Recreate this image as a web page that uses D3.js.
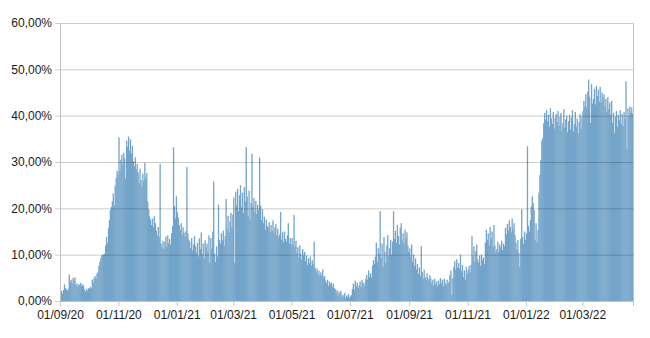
<!DOCTYPE html>
<html>
<head>
<meta charset="utf-8">
<script src="https://cdn.jsdelivr.net/npm/d3@7/dist/d3.min.js"></script>
<style>
  html, body { margin: 0; padding: 0; background: #fff; }
  #chart { width: 650px; height: 338px; }
</style>
</head>
<body>
<div id="chart"></div>
<script>
/* Daily percentage bars, 01/09/20 – 22/04/22 */

// one array per month, daily values in %
var sep20 = [1.8, 2.2, 1.6, 2.4, 3.6, 2.8, 2.5, 2.2, 2.6, 5.7, 4.2, 4.6, 3.8, 5.0, 4.4, 5.1, 3.4, 3.8, 3.1, 3.6, 3.5, 3.9, 3.3, 3.6, 3.2, 2.4, 2.0, 2.6, 2.2, 2.8];
var oct20 = [2.6, 3.0, 2.8, 4.6, 4.0, 5.0, 5.4, 4.8, 5.9, 6.2, 7.6, 8.4, 9.2, 9.8, 10.1, 9.9, 10.2, 12.0, 13.8, 12.5, 15.8, 17.5, 19.6, 20.3, 21.5, 23.2, 20.6, 24.8, 26.5, 28.1, 27.2];
var nov20 = [35.3, 28.2, 30.5, 31.6, 29.4, 32.0, 30.8, 26.4, 34.6, 33.2, 35.5, 32.4, 34.9, 31.8, 33.5, 30.2, 29.1, 31.0, 28.4, 29.6, 27.8, 25.4, 28.6, 26.1, 24.8, 27.5, 25.9, 29.8, 26.5, 27.6];
var dec20 = [21.5, 19.8, 18.2, 17.6, 16.4, 17.8, 15.9, 18.3, 16.8, 15.2, 14.1, 16.0, 13.8, 29.6, 12.4, 11.6, 13.0, 11.2, 12.8, 13.9, 11.8, 14.2, 12.5, 13.4, 12.1, 14.6, 16.2, 33.2, 20.5, 17.8, 22.6];
var jan21 = [19.2, 18.0, 16.4, 15.3, 16.8, 14.2, 15.9, 14.8, 13.9, 15.1, 28.9, 14.6, 13.2, 12.8, 11.4, 13.6, 10.9, 12.2, 14.0, 11.8, 10.4, 12.6, 9.6, 13.5, 11.2, 14.8, 10.2, 12.4, 9.2, 13.1, 11.6];
var feb21 = [12.4, 10.6, 14.2, 8.2, 13.6, 11.4, 15.0, 25.8, 10.2, 8.4, 11.8, 9.6, 20.8, 13.2, 12.4, 14.6, 13.1, 15.2, 12.0, 14.0, 22.0, 15.6, 18.4, 14.8, 17.2, 19.0, 15.8, 18.6];
var mar21 = [22.4, 8.2, 23.6, 20.6, 24.2, 19.4, 22.8, 25.0, 20.2, 23.4, 19.0, 24.6, 21.4, 33.2, 22.6, 18.4, 23.8, 17.6, 21.2, 31.8, 20.4, 22.2, 19.2, 21.6, 18.8, 20.8, 19.6, 31.0, 20.6, 17.4, 19.8];
var apr21 = [16.8, 18.2, 15.4, 17.6, 16.2, 15.8, 17.0, 14.8, 16.4, 15.2, 17.4, 14.6, 15.9, 16.6, 14.2, 15.6, 13.8, 14.4, 19.2, 13.2, 14.8, 12.6, 15.0, 13.4, 12.8, 14.2, 16.8, 12.4, 13.6, 12.2];
var may21 = [13.6, 12.2, 18.6, 11.8, 13.0, 10.4, 11.6, 9.4, 12.0, 10.2, 9.0, 11.2, 9.8, 10.6, 8.6, 9.8, 7.8, 9.2, 8.2, 9.6, 7.6, 8.8, 8.0, 12.8, 7.2, 6.4, 7.0, 5.8, 6.6, 5.4, 6.2];
var jun21 = [5.6, 6.8, 5.0, 5.4, 4.4, 3.8, 4.6, 3.2, 4.2, 3.6, 4.0, 3.0, 3.8, 2.8, 2.6, 1.8, 2.4, 1.2, 2.0, 1.6, 2.2, 0.8, 1.4, 1.0, 1.8, 0.6, 1.2, 0.9, 1.5, 0.7];
var jul21 = [1.0, 1.3, 2.6, 3.8, 2.4, 4.4, 3.2, 4.0, 2.8, 3.4, 4.2, 3.0, 4.6, 3.6, 4.0, 3.2, 4.8, 5.6, 4.6, 6.6, 5.2, 6.0, 5.0, 7.6, 8.8, 8.0, 9.6, 12.6, 8.4, 11.4, 10.2];
var aug21 = [19.4, 9.2, 12.4, 7.4, 13.8, 10.6, 8.2, 12.0, 14.2, 9.8, 11.4, 13.2, 10.0, 12.8, 19.4, 13.4, 15.2, 12.6, 16.4, 14.0, 12.2, 15.8, 16.8, 13.0, 14.6, 12.4, 15.4, 13.6, 14.8, 12.0, 10.6];
var sep21 = [11.4, 9.6, 12.2, 8.4, 10.0, 7.6, 9.2, 6.8, 8.0, 5.8, 7.2, 5.4, 11.8, 6.2, 4.8, 6.8, 5.2, 4.6, 6.0, 5.0, 4.4, 5.6, 4.8, 3.8, 4.6, 3.4, 4.8, 3.6, 4.2, 3.2];
var oct21 = [4.4, 3.6, 5.0, 3.8, 4.6, 3.2, 4.8, 4.0, 3.4, 4.6, 3.8, 4.2, 5.6, 6.6, 1.3, 5.0, 7.4, 8.6, 6.8, 9.0, 7.2, 8.2, 7.0, 10.0, 6.4, 7.8, 5.2, 6.6, 4.6, 7.4, 5.8];
var nov21 = [6.8, 7.6, 6.2, 7.8, 14.0, 9.6, 11.8, 8.4, 10.8, 12.2, 9.0, 8.2, 9.8, 7.6, 10.0, 8.8, 9.4, 8.0, 12.6, 15.4, 13.2, 14.6, 12.0, 16.0, 13.6, 15.0, 11.6, 16.4, 12.0, 10.4];
var dec21 = [11.2, 12.8, 10.6, 12.2, 11.6, 13.0, 11.0, 12.4, 11.8, 15.8, 14.4, 16.6, 15.2, 17.4, 16.0, 14.8, 17.8, 15.6, 16.8, 14.2, 12.6, 11.0, 13.2, 10.4, 7.4, 13.4, 19.8, 13.8, 12.4, 15.0, 13.2];
var jan22 = [14.6, 33.4, 16.2, 15.0, 17.4, 20.4, 22.6, 21.2, 19.6, 13.2, 16.8, 12.6, 15.4, 23.4, 27.2, 30.4, 34.6, 35.2, 38.4, 40.6, 39.2, 41.2, 38.8, 40.2, 37.6, 41.6, 39.4, 38.2, 40.8, 37.2, 39.6];
var feb22 = [40.4, 38.6, 41.0, 37.8, 39.8, 40.6, 36.8, 38.4, 41.4, 37.4, 39.2, 40.0, 36.4, 38.8, 40.2, 37.0, 39.6, 41.2, 36.6, 38.2, 40.8, 37.6, 39.4, 36.2, 38.6, 40.4, 37.2, 39.8];
var mar22 = [41.0, 43.2, 42.0, 44.6, 41.8, 45.2, 47.8, 44.0, 38.4, 46.8, 42.6, 43.6, 45.8, 42.4, 46.4, 44.2, 45.6, 43.0, 46.2, 42.8, 45.0, 43.8, 44.6, 42.0, 43.6, 40.8, 44.0, 41.4, 42.8, 40.2, 43.2];
var apr22 = [38.4, 40.6, 36.2, 39.8, 41.0, 37.6, 40.2, 39.0, 41.2, 38.2, 40.4, 37.8, 40.8, 39.4, 47.4, 32.8, 41.6, 39.8, 42.0, 40.6, 41.8, 40.4];

var Y_TICKS = [0, 10, 20, 30, 40, 50, 60];
var START_DATE = new Date(Date.UTC(2020, 8, 1));

(function () {
  'use strict';

  var WIDTH = 650;
  var HEIGHT = 338;
  var MARGIN = { top: 23, right: 17, bottom: 37, left: 60 };

  var COLOR_BAR   = '#74a4c9';
  var COLOR_GRID  = '#000';
  var COLOR_AXIS  = '#c4c4c4';
  var COLOR_TEXT  = '#1a1a1a';
  var FONT_FAMILY = '"Liberation Sans", Arial, Helvetica, sans-serif';
  var FONT_SIZE   = 12;
  var BAR_OVERLAP = 0.35;

  var values = [].concat(sep20, oct20, nov20, dec20, jan21, feb21, mar21, apr21,
    may21, jun21, jul21, aug21, sep21, oct21, nov21, dec21, jan22, feb22, mar22, apr22);

  var data = values.map(function (v, i) {
    return { date: d3.utcDay.offset(START_DATE, i), value: v };
  });

  var endDate = d3.utcDay.offset(START_DATE, values.length);

  var x = d3.scaleUtc()
    .domain([START_DATE, endDate])
    .range([MARGIN.left, WIDTH - MARGIN.right]);

  var y = d3.scaleLinear()
    .domain([0, 60])
    .range([HEIGHT - MARGIN.bottom, MARGIN.top]);

  var locale = d3.formatLocale({ decimal: ',', thousands: '.', grouping: [3], currency: ['', '€'] });
  var fmtPct = function (v) { return locale.format('.2f')(v) + '%'; };
  var fmtDate = d3.utcFormat('%d/%m/%y');

  var svg = d3.select('#chart').append('svg')
    .attr('width', WIDTH)
    .attr('height', HEIGHT);

  // bars, slightly overlapped so the 1px columns don't leave white seams
  svg.append('g')
    .attr('class', 'bars')
    .selectAll('rect')
    .data(data)
    .join('rect')
    .attr('x', function (d) { return x(d.date); })
    .attr('width', function (d, i) {
      var w = x(d3.utcDay.offset(d.date, 1)) - x(d.date);
      return i === data.length - 1 ? w : w + BAR_OVERLAP;
    })
    .attr('y', function (d) { return y(d.value); })
    .attr('height', function (d) { return y(0) - y(d.value); })
    .attr('fill', COLOR_BAR);

  // horizontal grid + y ticks, drawn over the bars
  var yAxis = d3.axisLeft(y)
    .tickValues(Y_TICKS)
    .tickSize(-(WIDTH - MARGIN.left - MARGIN.right) - 5)
    .tickPadding(3)
    .tickFormat(fmtPct);

  var gy = svg.append('g')
    .attr('transform', 'translate(' + (MARGIN.left - 5) + ',0)')
    .call(yAxis);
  gy.select('.domain').remove();
  gy.selectAll('.tick line')
    .attr('stroke', COLOR_GRID)
    .attr('stroke-opacity', 0.2);
  gy.selectAll('.tick text')
    .attr('fill', COLOR_TEXT)
    .style('font-family', FONT_FAMILY)
    .style('font-size', FONT_SIZE + 'px');

  // left and right frame lines
  [MARGIN.left, WIDTH - MARGIN.right].forEach(function (px) {
    svg.append('line')
      .attr('x1', px + 0.5).attr('x2', px + 0.5)
      .attr('y1', y(60)).attr('y2', y(0) + 0.5)
      .attr('stroke', COLOR_AXIS)
      .attr('stroke-width', 1);
  });

  // x axis
  var xAxis = d3.axisBottom(x)
    .ticks(d3.utcMonth.every(2))
    .tickSize(5)
    .tickPadding(4)
    .tickFormat(fmtDate);

  var gx = svg.append('g')
    .attr('transform', 'translate(0,' + y(0) + ')')
    .call(xAxis);
  gx.select('.domain')
    .attr('stroke', COLOR_AXIS);
  gx.selectAll('.tick line')
    .attr('stroke', COLOR_AXIS);
  gx.selectAll('.tick text')
    .attr('fill', COLOR_TEXT)
    .style('font-family', FONT_FAMILY)
    .style('font-size', FONT_SIZE + 'px');
})();
</script>
</body>
</html>
